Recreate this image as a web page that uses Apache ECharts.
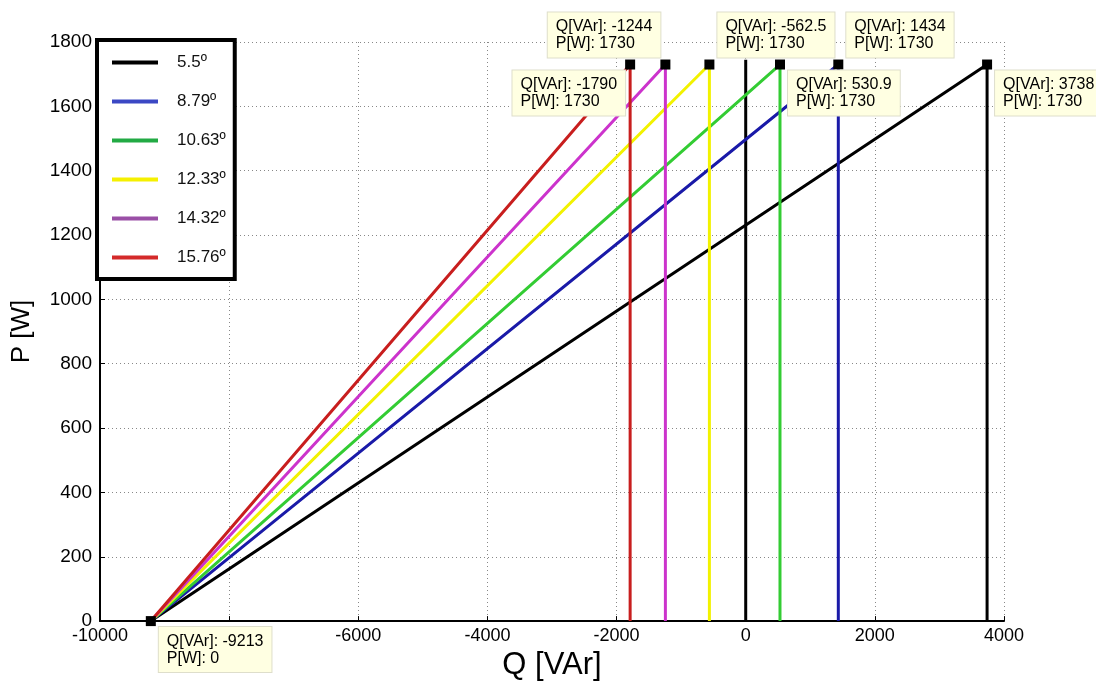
<!DOCTYPE html>
<html>
<head>
<meta charset="utf-8">
<script src="https://cdn.jsdelivr.net/npm/echarts@6/dist/echarts.min.js"></script>
<style>
  html, body { margin: 0; padding: 0; background: #fff; }
  #chart { width: 1096px; height: 686px; }
</style>
</head>
<body>
<div id="chart"></div>
<script>
// Operating lines: common origin on the Q axis, each rising to the rated power
const angleNames = ['5.5º', '8.79º', '10.63º', '12.33º', '14.32º', '15.76º'];
const qEnd = [3738, 1434, 530.9, -562.5, -1244, -1790];   // Q [VAr] at the top of each line
const pRated = 1730;                                        // P [W]
const qOrigin = -9213;                                      // Q [VAr] where all lines start
const qZeroTop = 1745;                                      // height of the Q = 0 marker line
const xTicks = [-10000, -8000, -6000, -4000, -2000, 0, 2000, 4000];
const yTicks = [0, 200, 400, 600, 800, 1000, 1200, 1400, 1600, 1800];

const lineColors = ['#000000', '#1a1aa8', '#33cc33', '#f2f200', '#cc33cc', '#c81e1e'];
const legendColors = ['#000000', '#3b48c4', '#22aa44', '#f5f000', '#9a4fa6', '#d42a2a'];

const FONT = 'Liberation Sans, Arial, sans-serif';

// datatip placement: which side of the marker each box sits on
// [horizontal side, vertical side]
const tipSide = {
  '3738': ['right', 'below'],
  '1434': ['right', 'above'],
  '530.9': ['right', 'below'],
  '-562.5': ['right', 'above'],
  '-1244': ['left', 'above'],
  '-1790': ['left', 'below'],
  '-9213': ['right', 'below']
};

function tipLabel(q, p) {
  const side = tipSide[String(q)];
  const half = 5;
  const dx = side[0] === 'right' ? half + 8 : half - 5;
  const dy = side[1] === 'below' ? half + 6 : half - 7;
  return {
    show: true,
    position: [dx, dy],
    align: side[0] === 'right' ? 'left' : 'right',
    verticalAlign: side[1] === 'below' ? 'top' : 'bottom',
    formatter: '{t|Q[VAr]: ' + q + '}\n{t|P[W]: ' + p + '}',
    rich: {
      t: { align: 'left', fontFamily: FONT, fontSize: 16, lineHeight: 17, color: '#000' }
    },
    fontFamily: FONT,
    fontSize: 16,
    lineHeight: 17,
    color: '#000',
    backgroundColor: '#ffffe2',
    borderColor: '#dedecb',
    borderWidth: 1,
    padding: [6, 8, 5, 8]
  };
}

const series = [];

angleNames.forEach(function (name, i) {
  series.push({
    name: name,
    type: 'line',
    data: [[qOrigin, 0], [qEnd[i], pRated], [qEnd[i], 0]],
    showSymbol: false,
    symbol: 'none',
    lineStyle: { color: lineColors[i], width: 3 },
    itemStyle: { color: lineColors[i] },
    z: 3 + i,
    animation: false
  });
});

// vertical reference at Q = 0
series.push({
  name: 'q0',
  type: 'line',
  data: [[0, 0], [0, qZeroTop]],
  symbol: 'none',
  lineStyle: { color: '#000', width: 3 },
  z: 2,
  animation: false
});

// datatip markers
const tipPoints = qEnd.map(function (q) { return [q, pRated]; }).concat([[qOrigin, 0]]);
series.push({
  name: 'tips',
  type: 'scatter',
  symbol: 'rect',
  symbolSize: 10,
  itemStyle: { color: '#000', opacity: 1 },
  z: 20,
  animation: false,
  data: tipPoints.map(function (pt) {
    return { value: pt, label: tipLabel(pt[0], pt[1]) };
  })
});

const chart = echarts.init(document.getElementById('chart'), null, { renderer: 'canvas' });
chart.setOption({
  backgroundColor: '#ffffff',
  animation: false,
  grid: { left: 100, right: 92, top: 42, bottom: 56, containLabel: false },
  legend: {
    data: angleNames.map(function (n, i) {
      return { name: n, itemStyle: { color: legendColors[i] } };
    }),
    orient: 'vertical',
    left: 97,
    top: 40,
    backgroundColor: '#ffffff',
    borderColor: '#000',
    borderWidth: 4,
    padding: [14, 9, 13, 15],
    itemWidth: 46,
    itemHeight: 4,
    itemGap: 22,
    icon: 'rect',
    textStyle: { fontFamily: FONT, fontSize: 17, color: '#111', padding: [0, 0, 0, 14] },
    selectedMode: false,
    z: 30
  },
  xAxis: {
    type: 'value',
    min: xTicks[0],
    max: xTicks[xTicks.length - 1],
    interval: 2000,
    name: 'Q [VAr]',
    nameLocation: 'middle',
    nameGap: 24,
    nameTextStyle: { fontFamily: FONT, fontSize: 31, color: '#000' },
    axisLine: { onZero: false, lineStyle: { color: '#000', width: 2 } },
    axisTick: { inside: true, length: 5, lineStyle: { color: '#000' } },
    axisLabel: { fontFamily: FONT, fontSize: 18, color: '#000', margin: 6,
      formatter: function (v) { return xTicks.indexOf(v) >= 0 ? String(v) : ''; } },
    splitLine: { show: true, lineStyle: { color: '#888', width: 1, type: [1, 3] } }
  },
  yAxis: {
    type: 'value',
    min: yTicks[0],
    max: yTicks[yTicks.length - 1],
    interval: 200,
    name: 'P [W]',
    nameLocation: 'middle',
    nameGap: 65,
    nameTextStyle: { fontFamily: FONT, fontSize: 26, color: '#000' },
    axisLine: { onZero: false, lineStyle: { color: '#000', width: 2 } },
    axisTick: { inside: true, length: 5, lineStyle: { color: '#000' } },
    axisLabel: { fontFamily: FONT, fontSize: 19, color: '#000', margin: 8,
      formatter: function (v) { return yTicks.indexOf(v) >= 0 ? String(v) : ''; } },
    splitLine: { show: true, lineStyle: { color: '#888', width: 1, type: [1, 3] } }
  },
  series: series
});
</script>
</body>
</html>
